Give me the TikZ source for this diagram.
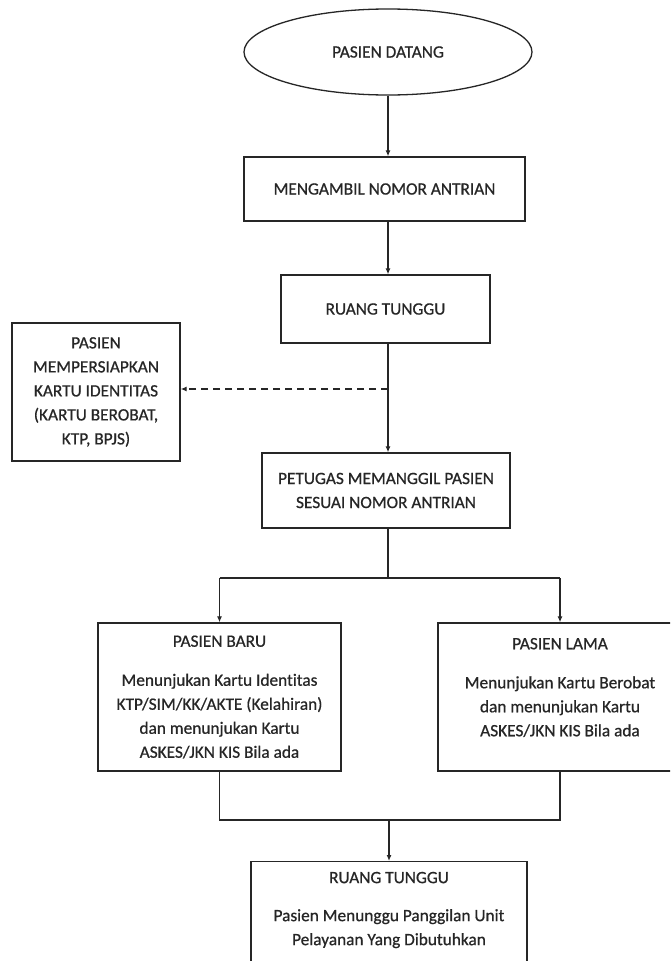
\documentclass[tikz,border=0pt]{standalone}
\usepackage{fontspec}
\setmainfont{Carlito}[Ligatures=NoCommon,FakeBold=0.7]
\usetikzlibrary{shapes.geometric,arrows.meta}
\definecolor{ink}{HTML}{262626}
\begin{document}
\begin{tikzpicture}[x=1pt,y=-1pt,
  every node/.style={text=ink, font=\fontsize{17.3}{24}\selectfont},
  box/.style={draw=ink, line width=1.3pt, rectangle, align=center, inner sep=0pt},
  line/.style={draw=ink, line width=1.3pt},
  arr/.style={line, -{Latex[length=6pt,width=5pt]}},
  dashline/.style={line, dash pattern=on 7pt off 5pt, -{Latex[length=6pt,width=5pt]}},
]
\useasboundingbox (0,0) rectangle (670,961);
\fill[white] (0,0) rectangle (670,961);
\clip (0,0) rectangle (670,961);

\node[ellipse, draw=ink, line width=1.3pt, minimum width=288pt, minimum height=86pt, inner sep=0pt] (start) at (388,52) {PASIEN DATANG};
\node[box, minimum width=281pt, minimum height=64pt] (b1) at (384.5,189) {MENGAMBIL NOMOR ANTRIAN};
\node[box, minimum width=209pt, minimum height=68pt] (b2) at (385.5,309) {RUANG TUNGGU};
\node[box, minimum width=168pt, minimum height=138pt] (lb) at (96,392) {PASIEN\\MEMPERSIAPKAN\\KARTU IDENTITAS\\(KARTU BEROBAT,\\KTP, BPJS)};
\node[box, minimum width=248pt, minimum height=75pt] (b3) at (386,490.5) {PETUGAS MEMANGGIL PASIEN\\SESUAI NOMOR ANTRIAN};
\node[box, minimum width=243pt, minimum height=148pt] (b4) at (219.5,697) {PASIEN BARU\\[15pt]Menunjukan Kartu Identitas\\KTP/SIM/KK/AKTE (Kelahiran)\\dan menunjukan Kartu\\ASKES/JKN KIS Bila ada};
\node[box, minimum width=244pt, minimum height=148pt] (b5) at (560,697) {PASIEN LAMA\\[15pt]Menunjukan Kartu Berobat\\dan menunjukan Kartu\\ASKES/JKN KIS Bila ada\\[-6pt]\rule{0pt}{24pt}};
\node[box, anchor=north, minimum width=276pt, minimum height=140pt] (b6) at (389,861) {};
\node[align=center] (b6t) at (389,910) {RUANG TUNGGU\\[14pt]Pasien Menunggu Panggilan Unit\\Pelayanan Yang Dibutuhkan};

\draw[arr] (start.south) -- (start.south |- b1.north);
\draw[arr] (start.south |- b1.south) -- (start.south |- b2.north);
\draw[arr] (start.south |- b2.south) -- (start.south |- b3.north);
\coordinate (d) at (388,389);
\draw[dashline] (d) -- (lb.east |- d);
\coordinate (split) at (388,578);
\draw[line] (start.south |- b3.south) -- (split);
\draw[line] (b4.north |- split) -- (b5.north |- split);
\draw[arr] (b4.north |- split) -- (b4.north);
\draw[arr] (b5.north |- split) -- (b5.north);
\coordinate (merge) at (389,820);
\draw[line] (b4.south) -- (b4.south |- merge) -- (b5.south |- merge) -- (b5.south);
\draw[arr] (merge) -- (b6.north);
\end{tikzpicture}
\end{document}
